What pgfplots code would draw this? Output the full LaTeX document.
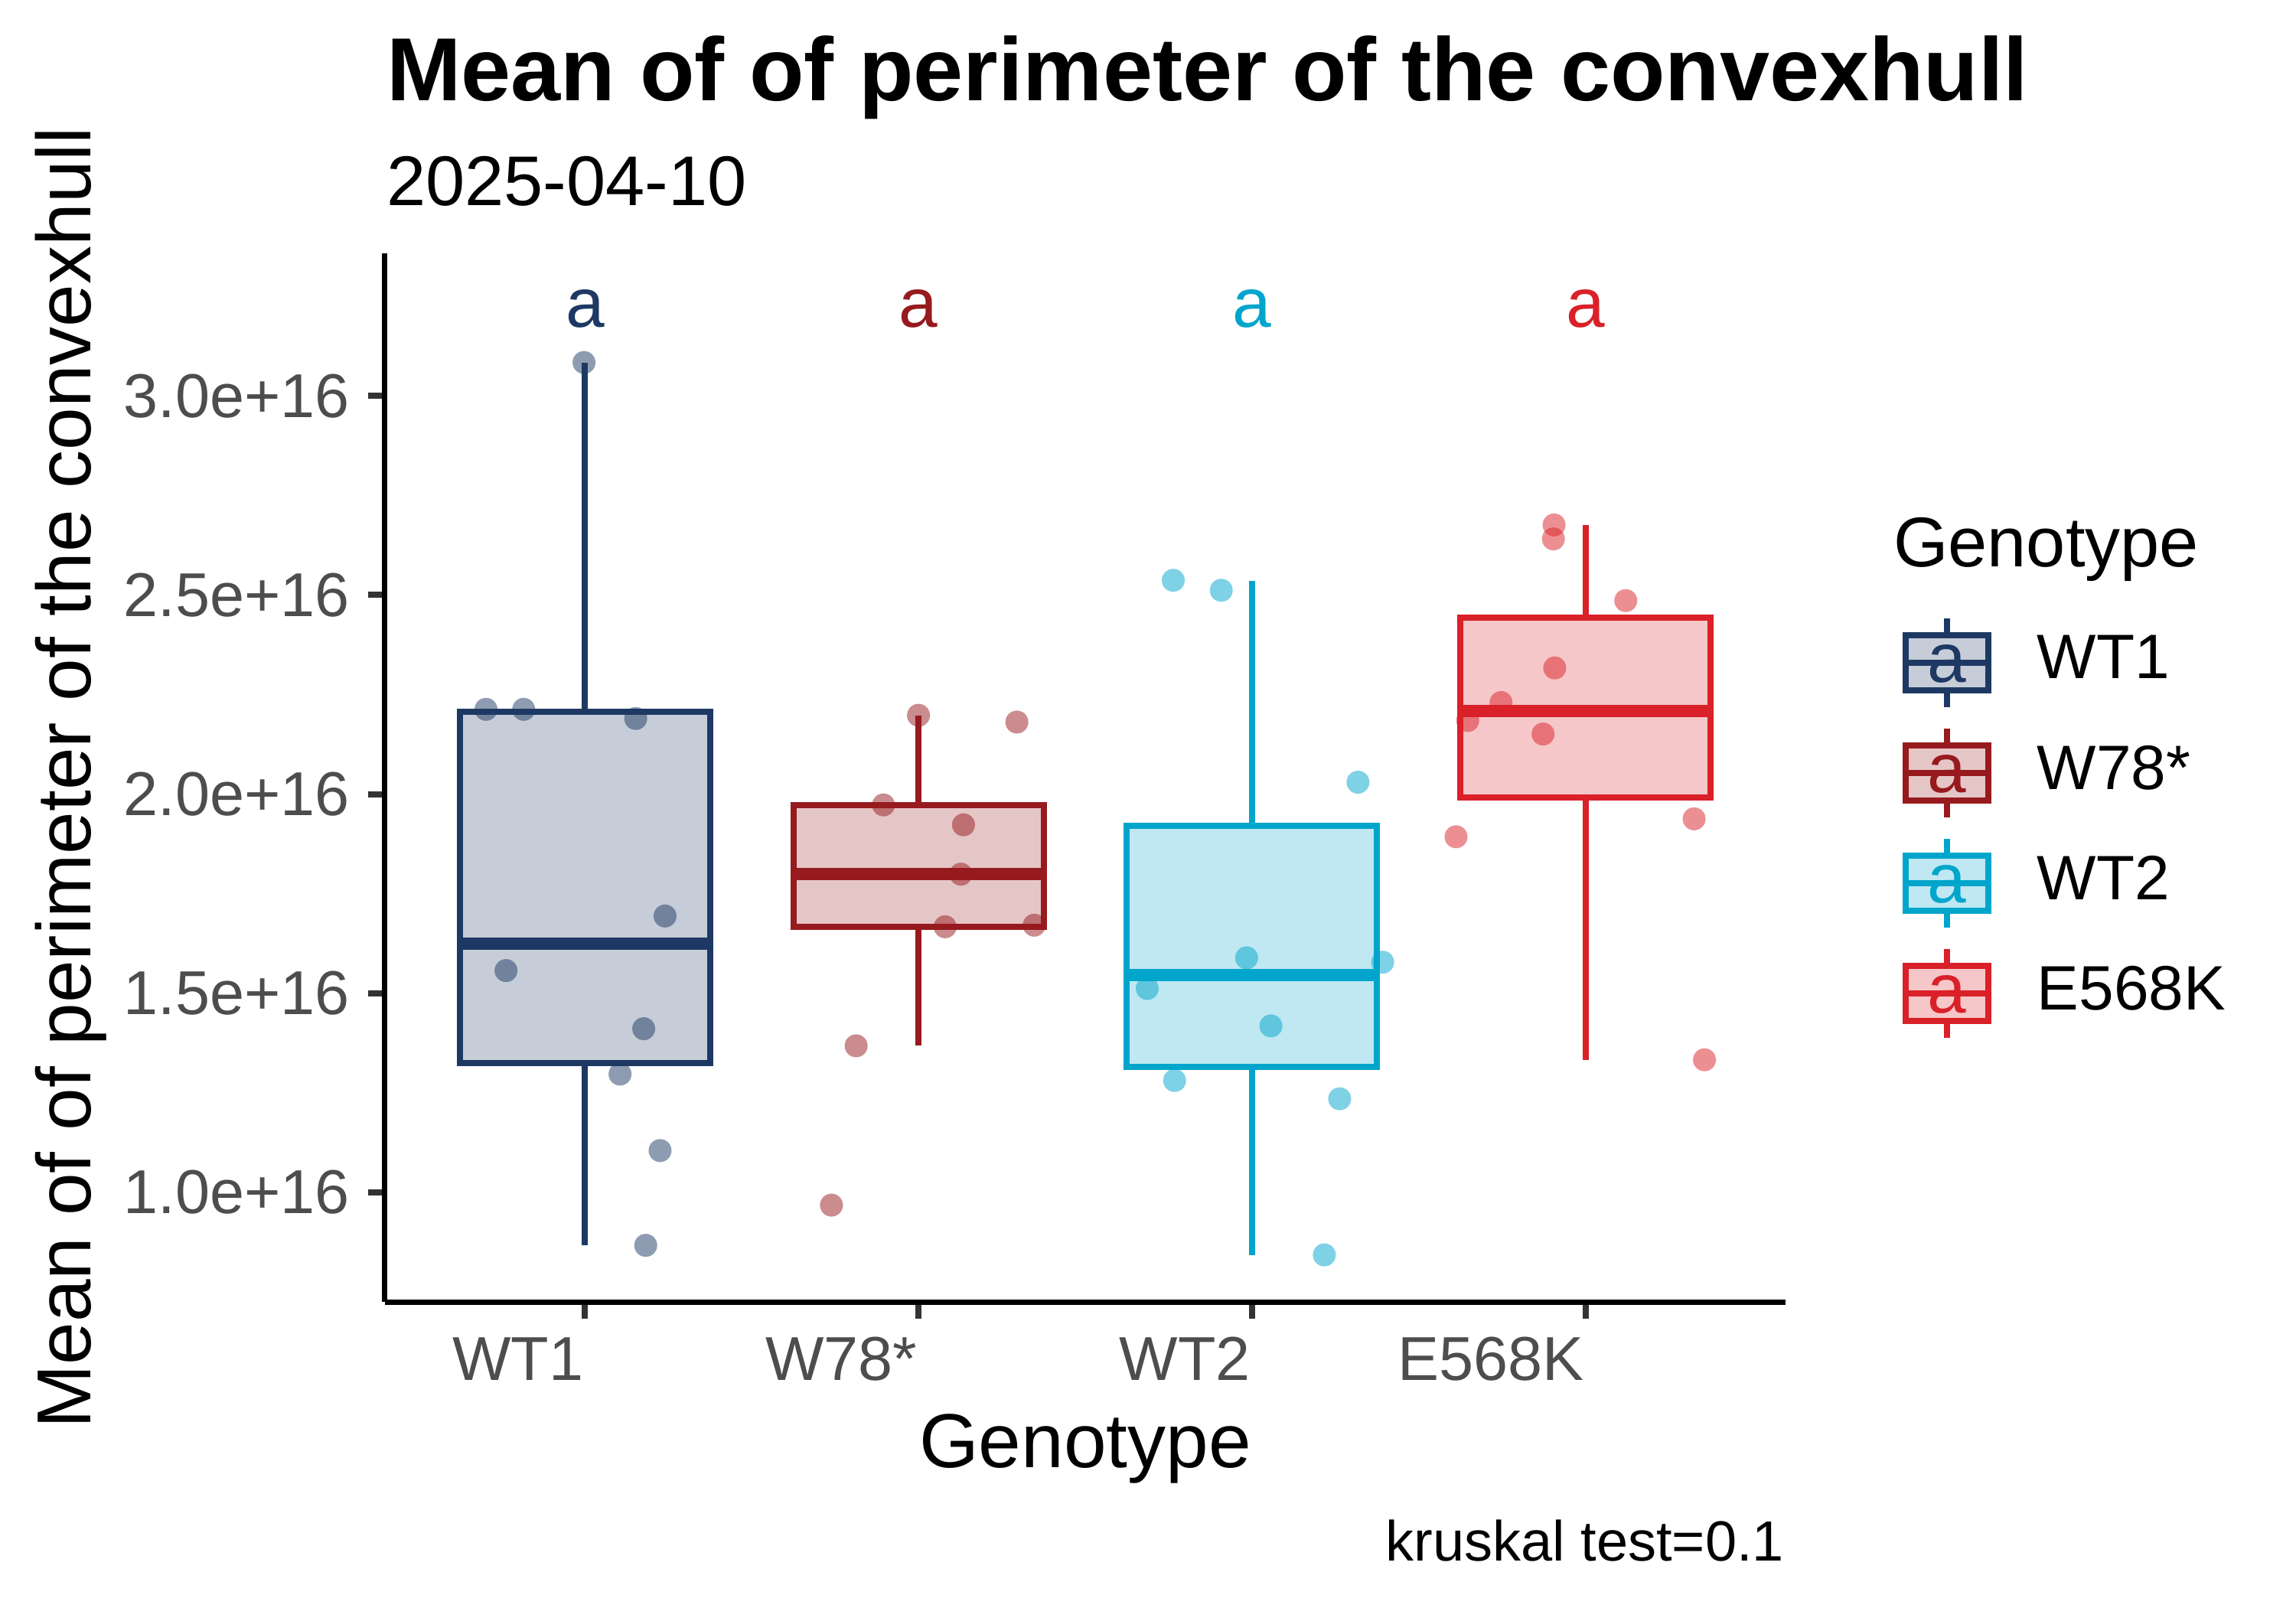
\documentclass[border=0pt]{standalone}
\usepackage{fontspec}
\setmainfont{Liberation Sans}
\usepackage{pgfplots}
\pgfplotsset{compat=1.18}
\usepgfplotslibrary{statistics}
\definecolor{cWT1}{RGB}{29,57,99}
\definecolor{cW78}{RGB}{150,26,30}
\definecolor{cWT2}{RGB}{0,165,204}
\definecolor{cE568K}{RGB}{218,32,40}
\definecolor{labgray}{RGB}{77,77,77}
\definecolor{tickgray}{RGB}{51,51,51}
\newcommand{\fs}[1]{\fontsize{#1}{#1}\selectfont}
% y values are given in units of 1e16
\begin{document}
\begin{tikzpicture}
\useasboundingbox (0,0) rectangle (300pt,210pt);
\begin{axis}[
  at={(50.3pt,39.9pt)}, anchor=south west,
  scale only axis, width=183pt, height=137pt,
  xmin=0.4, xmax=4.6, ymin=0.725, ymax=3.358,
  axis x line*=bottom, axis y line*=left,
  axis line style={line width=0.7pt, black, -},
  xtick={1,2,3,4}, xticklabels={},
  ytick={1,1.5,2,2.5,3}, yticklabels={},
  tick align=outside, major tick length=2.2pt,
  tick style={line width=0.8pt, color=tickgray},
  clip=false,
  boxplot/draw direction=y,
  legend style={at={(1.07596,0.66204)}, anchor=north west, draw=none, fill=none,
    inner sep=0pt, outer sep=0pt, row sep=0pt, column sep=4.6pt,
    nodes={inner sep=0pt, outer sep=0pt, font=\fs{8.2}, text=black}},
  legend cell align=left,
]
% boxes
\addplot[forget plot, draw=cWT1, fill=cWT1!25, line width=0.8pt, solid, mark=none,
  boxplot/every median/.style={line width=1.6pt},
  boxplot prepared={draw position=1, box extend=0.75, whisker extend=0,
    lower whisker=0.868, lower quartile=1.325, median=1.625,
    upper quartile=2.207, upper whisker=3.084}] coordinates {};
\addplot[forget plot, draw=cW78, fill=cW78!25, line width=0.8pt, solid, mark=none,
  boxplot/every median/.style={line width=1.6pt},
  boxplot prepared={draw position=2, box extend=0.75, whisker extend=0,
    lower whisker=1.368, lower quartile=1.667, median=1.800,
    upper quartile=1.973, upper whisker=2.198}] coordinates {};
\addplot[forget plot, draw=cWT2, fill=cWT2!25, line width=0.8pt, solid, mark=none,
  boxplot/every median/.style={line width=1.6pt},
  boxplot prepared={draw position=3, box extend=0.75, whisker extend=0,
    lower whisker=0.843, lower quartile=1.315, median=1.545,
    upper quartile=1.920, upper whisker=2.536}] coordinates {};
\addplot[forget plot, draw=cE568K, fill=cE568K!25, line width=0.8pt, solid, mark=none,
  boxplot/every median/.style={line width=1.6pt},
  boxplot prepared={draw position=4, box extend=0.75, whisker extend=0,
    lower whisker=1.333, lower quartile=1.991, median=2.208,
    upper quartile=2.444, upper whisker=2.676}] coordinates {};
% jittered points
\addplot[forget plot, only marks, mark=*, mark size=1.5pt,
  mark options={fill=cWT1, fill opacity=0.5, draw opacity=0}] coordinates {
  (0.703,2.213) (0.816,2.213) (1.152,2.190) (1.240,1.694)
  (0.763,1.557) (1.176,1.411) (1.105,1.297) (1.225,1.105)
  (1.182,0.867) (0.997,3.084)};
\addplot[forget plot, only marks, mark=*, mark size=1.5pt,
  mark options={fill=cW78, fill opacity=0.5, draw opacity=0}] coordinates {
  (2.000,2.198) (2.295,2.181) (1.895,1.973) (2.135,1.923)
  (2.127,1.799) (2.080,1.667) (2.347,1.671) (1.813,1.368)
  (1.739,0.968)};
\addplot[forget plot, only marks, mark=*, mark size=1.5pt,
  mark options={fill=cWT2, fill opacity=0.5, draw opacity=0}] coordinates {
  (2.764,2.537) (2.908,2.512) (3.318,2.030) (2.984,1.589)
  (3.392,1.578) (2.686,1.512) (3.057,1.418) (2.768,1.281)
  (3.263,1.235) (3.217,0.843)};
\addplot[forget plot, only marks, mark=*, mark size=1.5pt,
  mark options={fill=cE568K, fill opacity=0.5, draw opacity=0}] coordinates {
  (3.906,2.676) (3.904,2.641) (4.121,2.486) (3.908,2.317)
  (3.747,2.230) (3.647,2.185) (3.873,2.151) (4.326,1.938)
  (3.612,1.893) (4.357,1.333)};
% legend
\addlegendimage{legend image code/.code={
  \path[draw=none, fill=none] (0pt,-7.2pt) rectangle (14.4pt,7.2pt);
  \draw[cWT1, line width=0.8pt] (7.2pt,-5.76pt) -- (7.2pt,5.76pt);
  \draw[draw=cWT1, fill=cWT1!25, line width=0.8pt] (1.8pt,-3.6pt) rectangle (12.6pt,3.6pt);
  \draw[cWT1, line width=0.8pt] (1.8pt,0pt) -- (12.6pt,0pt);
  \node[anchor=center, text=cWT1, inner sep=0pt, font=\fs{9.1}] at (7.2pt,-0.8pt) {a};}}
\addlegendentry{WT1}
\addlegendimage{legend image code/.code={
  \path[draw=none, fill=none] (0pt,-7.2pt) rectangle (14.4pt,7.2pt);
  \draw[cW78, line width=0.8pt] (7.2pt,-5.76pt) -- (7.2pt,5.76pt);
  \draw[draw=cW78, fill=cW78!25, line width=0.8pt] (1.8pt,-3.6pt) rectangle (12.6pt,3.6pt);
  \draw[cW78, line width=0.8pt] (1.8pt,0pt) -- (12.6pt,0pt);
  \node[anchor=center, text=cW78, inner sep=0pt, font=\fs{9.1}] at (7.2pt,-0.8pt) {a};}}
\addlegendentry{W78*}
\addlegendimage{legend image code/.code={
  \path[draw=none, fill=none] (0pt,-7.2pt) rectangle (14.4pt,7.2pt);
  \draw[cWT2, line width=0.8pt] (7.2pt,-5.76pt) -- (7.2pt,5.76pt);
  \draw[draw=cWT2, fill=cWT2!25, line width=0.8pt] (1.8pt,-3.6pt) rectangle (12.6pt,3.6pt);
  \draw[cWT2, line width=0.8pt] (1.8pt,0pt) -- (12.6pt,0pt);
  \node[anchor=center, text=cWT2, inner sep=0pt, font=\fs{9.1}] at (7.2pt,-0.8pt) {a};}}
\addlegendentry{WT2}
\addlegendimage{legend image code/.code={
  \path[draw=none, fill=none] (0pt,-7.2pt) rectangle (14.4pt,7.2pt);
  \draw[cE568K, line width=0.8pt] (7.2pt,-5.76pt) -- (7.2pt,5.76pt);
  \draw[draw=cE568K, fill=cE568K!25, line width=0.8pt] (1.8pt,-3.6pt) rectangle (12.6pt,3.6pt);
  \draw[cE568K, line width=0.8pt] (1.8pt,0pt) -- (12.6pt,0pt);
  \node[anchor=center, text=cE568K, inner sep=0pt, font=\fs{9.1}] at (7.2pt,-0.8pt) {a};}}
\addlegendentry{E568K}
% group letters
\node[text=cWT1, inner sep=0pt, font=\fs{9.1}] at (axis cs:1,3.218) {a};
\node[text=cW78, inner sep=0pt, font=\fs{9.1}] at (axis cs:2,3.218) {a};
\node[text=cWT2, inner sep=0pt, font=\fs{9.1}] at (axis cs:3,3.218) {a};
\node[text=cE568K, inner sep=0pt, font=\fs{9.1}] at (axis cs:4,3.218) {a};
% x tick labels (right aligned to the ticks)
\node[anchor=base east, inner sep=0pt, yshift=-10.2pt, text=labgray, font=\fs{8.1}] at (axis cs:1,0.725) {WT1};
\node[anchor=base east, inner sep=0pt, yshift=-10.2pt, text=labgray, font=\fs{8.1}] at (axis cs:2,0.725) {W78*};
\node[anchor=base east, inner sep=0pt, yshift=-10.2pt, text=labgray, font=\fs{8.1}] at (axis cs:3,0.725) {WT2};
\node[anchor=base east, inner sep=0pt, yshift=-10.2pt, text=labgray, font=\fs{8.1}] at (axis cs:4,0.725) {E568K};
% y tick labels
\node[anchor=east, inner sep=0pt, xshift=-4.4pt, text=labgray, font=\fs{8.1}] at (axis cs:0.4,1.0) {1.0e+16};
\node[anchor=east, inner sep=0pt, xshift=-4.4pt, text=labgray, font=\fs{8.1}] at (axis cs:0.4,1.5) {1.5e+16};
\node[anchor=east, inner sep=0pt, xshift=-4.4pt, text=labgray, font=\fs{8.1}] at (axis cs:0.4,2.0) {2.0e+16};
\node[anchor=east, inner sep=0pt, xshift=-4.4pt, text=labgray, font=\fs{8.1}] at (axis cs:0.4,2.5) {2.5e+16};
\node[anchor=east, inner sep=0pt, xshift=-4.4pt, text=labgray, font=\fs{8.1}] at (axis cs:0.4,3.0) {3.0e+16};
\end{axis}
% titles and labels
\node[anchor=base west, inner sep=0pt, font=\fs{11.7}\bfseries] at (50.3pt,196.9pt) {Mean of of perimeter of the convexhull};
\node[anchor=base west, inner sep=0pt, font=\fs{9.2}] at (50.3pt,183.2pt) {2025-04-10};
\node[anchor=base, inner sep=0pt, font=\fs{10}] at (141.8pt,18.3pt) {Genotype};
\node[anchor=base, rotate=90, inner sep=0pt, font=\fs{10}] at (11.9pt,108.4pt) {Mean of of perimeter of the convexhull};
\node[anchor=base west, inner sep=0pt, font=\fs{9.2}] at (247.2pt,136.0pt) {Genotype};
\node[anchor=base east, inner sep=0pt, font=\fs{7.4}] at (233.3pt,6.1pt) {kruskal test=0.1};
\end{tikzpicture}
\end{document}
